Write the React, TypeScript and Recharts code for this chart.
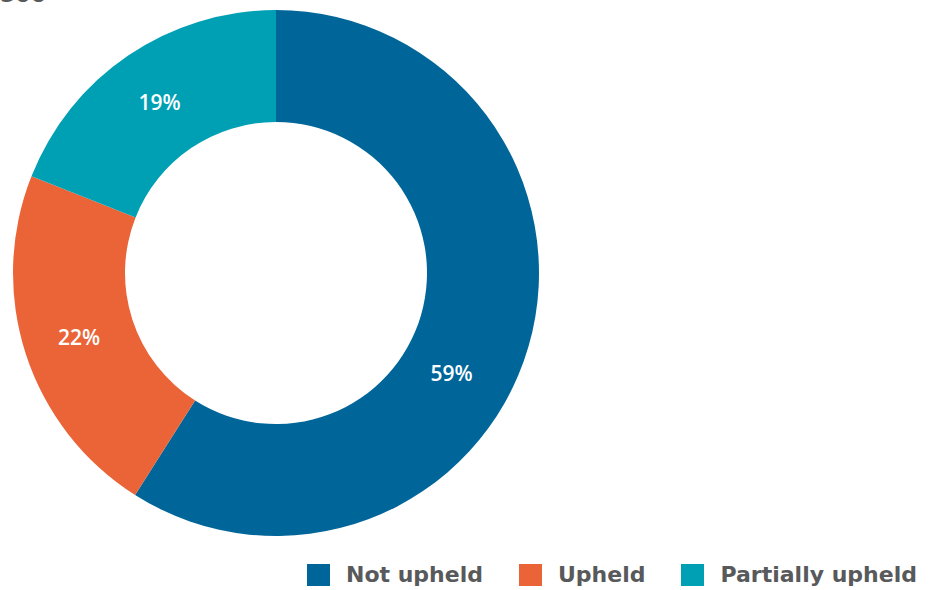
import { PieChart, Pie, Cell } from 'recharts';

const categories = ['Not upheld', 'Upheld', 'Partially upheld'];
const shares = [59, 22, 19];
const colours = ['#00669a', '#eb6437', '#00a0b4'];

const rows = categories.map((name, i) => ({ name, value: shares[i] }));

const RADIAN = Math.PI / 180;

// the big slice's label sits a bit further round than its middle in the original
function renderLabel(props: any) {
  const { cx, cy, midAngle, innerRadius, outerRadius, value, percent } = props;
  const angle = percent > 0.5 ? midAngle - 13.4 : midAngle;
  const r = (innerRadius + outerRadius) / 2 - (percent > 0.5 ? 5 : 0);
  const x = cx + r * Math.cos(-angle * RADIAN);
  const y = cy + r * Math.sin(-angle * RADIAN);
  return (
    <text
      x={x}
      y={y}
      fill="#ffffff"
      textAnchor="middle"
      dominantBaseline="central"
      style={{ fontFamily: '"Open Sans", sans-serif', fontSize: 21, fontWeight: 600 }}
    >
      {`${value}%`}
    </text>
  );
}

function LegendRow() {
  return (
    <div style={{ position: 'absolute', left: 307, top: 563, display: 'flex', alignItems: 'center', height: 24 }}>
      {rows.map((r, i) => (
        <div key={r.name} style={{ display: 'flex', alignItems: 'center', marginRight: i < rows.length - 1 ? 36 : 0 }}>
          <span style={{ width: 23, height: 22, background: colours[i], display: 'inline-block', marginRight: 16 }} />
          <span
            style={{
              fontFamily: '"DejaVu Sans", sans-serif',
              fontWeight: 700,
              fontSize: 22,
              color: '#58595b',
              lineHeight: '24px',
              whiteSpace: 'nowrap',
            }}
          >
            {r.name}
          </span>
        </div>
      ))}
    </div>
  );
}

export default function App() {
  return (
    <div style={{ position: 'absolute', left: 0, top: 0, width: 932, height: 590, background: '#fff', overflow: 'hidden' }}>
      <PieChart width={932} height={590} margin={{ top: 0, right: 0, bottom: 0, left: 0 }}>
        <text x={0} y={2} fill="#58595b" style={{ fontFamily: '"DejaVu Sans", sans-serif', fontWeight: 700, fontSize: 22 }}>
          506
        </text>
        <Pie
          data={rows}
          dataKey="value"
          nameKey="name"
          cx={276}
          cy={273}
          innerRadius={151}
          outerRadius={263}
          startAngle={90}
          endAngle={-270}
          stroke="none"
          label={renderLabel}
          labelLine={false}
          isAnimationActive={false}
        >
          {rows.map((r, i) => (
            <Cell key={r.name} fill={colours[i]} />
          ))}
        </Pie>
      </PieChart>
      <LegendRow />
    </div>
  );
}
